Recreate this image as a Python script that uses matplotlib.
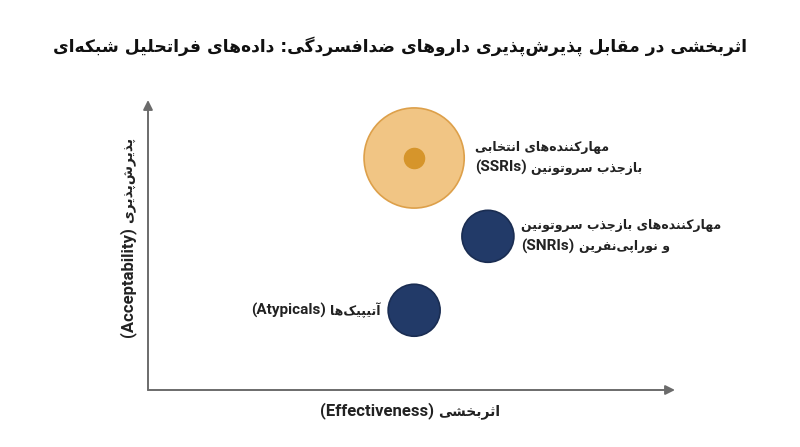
import re
import matplotlib
matplotlib.use('Agg')
from matplotlib import pyplot as plt
from matplotlib.offsetbox import TextArea, HPacker, VPacker, AnnotationBbox

#-----------------------------------------------------------------------------
# data
names = ['مهارکننده‌های انتخابی\nبازجذب سروتونین (SSRIs)',
         'مهارکننده‌های بازجذب سروتونین\nو نوراپی‌نفرین (SNRIs)',
         'آتیپیک‌ها (Atypicals)']
effectiveness = [5.05, 6.45, 5.05]
acceptability = [8.0, 5.3, 2.75]
bubble_size = [5200, 1400, 1400]

title = 'اثربخشی در مقابل پذیرش‌پذیری داروهای ضدافسردگی: داده‌های فراتحلیل شبکه‌ای'
xlab = 'اثربخشی (Effectiveness)'
ylab = 'پذیرش‌پذیری (Acceptability)'

#-----------------------------------------------------------------------------
# minimal persian shaping + rtl ordering (matplotlib does neither)
FORMS = {
    'ا': (0xFE8D, 0xFE8E, None, None), 'آ': (0xFE81, 0xFE82, None, None),
    'ب': (0xFE8F, 0xFE90, 0xFE91, 0xFE92), 'پ': (0xFB56, 0xFB57, 0xFB58, 0xFB59),
    'ت': (0xFE95, 0xFE96, 0xFE97, 0xFE98), 'ث': (0xFE99, 0xFE9A, 0xFE9B, 0xFE9C),
    'ج': (0xFE9D, 0xFE9E, 0xFE9F, 0xFEA0), 'ح': (0xFEA1, 0xFEA2, 0xFEA3, 0xFEA4),
    'خ': (0xFEA5, 0xFEA6, 0xFEA7, 0xFEA8), 'د': (0xFEA9, 0xFEAA, None, None),
    'ذ': (0xFEAB, 0xFEAC, None, None), 'ر': (0xFEAD, 0xFEAE, None, None),
    'ز': (0xFEAF, 0xFEB0, None, None), 'س': (0xFEB1, 0xFEB2, 0xFEB3, 0xFEB4),
    'ش': (0xFEB5, 0xFEB6, 0xFEB7, 0xFEB8), 'ض': (0xFEBD, 0xFEBE, 0xFEBF, 0xFEC0),
    'ف': (0xFED1, 0xFED2, 0xFED3, 0xFED4), 'ق': (0xFED5, 0xFED6, 0xFED7, 0xFED8),
    'ک': (0xFB8E, 0xFB8F, 0xFB90, 0xFB91), 'گ': (0xFB92, 0xFB93, 0xFB94, 0xFB95),
    'ل': (0xFEDD, 0xFEDE, 0xFEDF, 0xFEE0), 'م': (0xFEE1, 0xFEE2, 0xFEE3, 0xFEE4),
    'ن': (0xFEE5, 0xFEE6, 0xFEE7, 0xFEE8), 'ه': (0xFEE9, 0xFEEA, 0xFEEB, 0xFEEC),
    'و': (0xFEED, 0xFEEE, None, None), 'ی': (0xFBFC, 0xFBFD, 0xFBFE, 0xFBFF),
}

def shape(txt):
    out = []
    for i, ch in enumerate(txt):
        if ch not in FORMS:
            out.append(ch)
            continue
        prev = txt[i-1] if i > 0 else ''
        nxt = txt[i+1] if i+1 < len(txt) else ''
        p = prev in FORMS and FORMS[prev][2] is not None
        n = FORMS[ch][2] is not None and nxt in FORMS
        iso, fin, ini, med = FORMS[ch]
        if p and n:
            c = med
        elif p:
            c = fin
        elif n:
            c = ini
        else:
            c = iso
        out.append(chr(c))
    return ''.join(out).replace('\u200c', '')

def rtl(line):
    """one line -> visual (left to right) order"""
    s = shape(line)[::-1]
    s = re.sub(r'[A-Za-z0-9]+', lambda m: m.group(0)[::-1], s)
    return s.translate(str.maketrans('()', ')('))

def runs(line):
    """visual runs, latin in parentheses split from persian"""
    return [r.strip() for r in re.split(r'(\([A-Za-z]+\))', rtl(line)) if r.strip()]

TXT = '#222222'
FA = dict(family='DejaVu Sans', weight='bold', size=9, color=TXT)
EN = dict(family='Roboto', weight='bold', size=11, color=TXT)
FA_AX = dict(family='DejaVu Sans', weight='bold', size=10, color=TXT)
EN_AX = dict(family='Roboto', weight='bold', size=12, color=TXT)

def label_box(txt, fa, en, align='left', line_sep=5):
    rows = []
    for line in txt.split('\n'):
        kids = [TextArea(r, textprops=en if r.startswith('(') else fa) for r in runs(line)]
        rows.append(HPacker(children=kids, align='baseline', pad=0, sep=3))
    return VPacker(children=rows, align=align, pad=0, sep=line_sep)

#-----------------------------------------------------------------------------
fig = plt.figure(figsize=(8, 4.47), dpi=100)
ax = fig.add_axes([148/800, 57/447, 527/800, 290/447])
ax.set_xlim(0, 10)
ax.set_ylim(0, 10)
for s in ax.spines.values():
    s.set_visible(False)
ax.set_xticks([])
ax.set_yticks([])

# arrows for axes
arrow = dict(arrowstyle='-|>', color='#6b6b6b', lw=1.4, mutation_scale=14,
             shrinkA=0, shrinkB=0)
ax.annotate('', xy=(1, 0), xytext=(0, 0), xycoords='axes fraction', arrowprops=arrow)
ax.annotate('', xy=(0, 1), xytext=(0, 0), xycoords='axes fraction', arrowprops=arrow)

# bubbles
cols = ['#f1c584', '#223a68', '#223a68']
edges = ['#dda04a', '#1a2d52', '#1a2d52']
ax.scatter(effectiveness, acceptability, s=bubble_size, c=cols,
           edgecolors=edges, linewidths=1.2, zorder=3)
ax.scatter(effectiveness[:1], acceptability[:1], s=210, c='#d6952b', zorder=4)

# bubble labels
offsets = [(44, 0), (24, 0), (-24, 0)]
aligns = ['left', 'left', 'right']
for i, nm in enumerate(names):
    box = label_box(nm, FA, EN, aligns[i])
    ab = AnnotationBbox(box, (effectiveness[i], acceptability[i]), xybox=offsets[i],
                        boxcoords='offset points', frameon=False, pad=0,
                        box_alignment=(0 if aligns[i] == 'left' else 1, 0.5), zorder=5)
    ax.add_artist(ab)

# x label
ab = AnnotationBbox(label_box(xlab, FA_AX, EN_AX), (0.5, 0), xycoords='axes fraction',
                    xybox=(-1, -15), boxcoords='offset points', frameon=False, pad=0,
                    box_alignment=(0.5, 0.5))
ax.add_artist(ab)

# y label: two rotated pieces, stacked bottom to top
fig.canvas.draw()
rend = fig.canvas.get_renderer()
pieces = runs(ylab)
ty = []
for r in pieces:
    props = EN_AX if r.startswith('(') else FA_AX
    ty.append(fig.text(0, 0, r, rotation=90, rotation_mode='anchor', ha='left',
                       va='baseline', transform=None, **props))
gap = 4
hs = [t.get_window_extent(rend).height for t in ty]
y0 = (447 - 237) - (sum(hs) + gap * (len(hs) - 1)) / 2
for t, h in zip(ty, hs):
    t.set_position((132, y0))
    y0 += h + gap

# title
fig.text(0.5, 1 - 46/447, rtl(title), ha='center', va='center',
         family='DejaVu Sans', weight='bold', size=12.3, color='#111111')

plt.savefig('out.png', dpi=100)
